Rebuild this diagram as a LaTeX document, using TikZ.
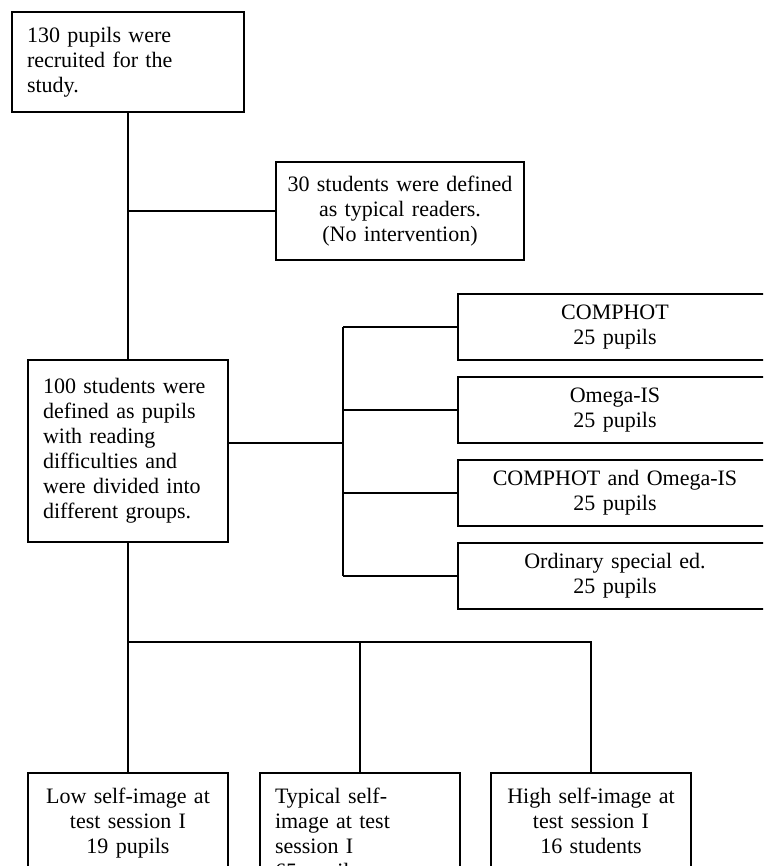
\documentclass[tikz,border=0pt]{standalone}
\usepackage{fontspec}
\setmainfont{Liberation Serif}
\begin{document}
\begin{tikzpicture}[
	x=1pt, y=-1pt,
	every node/.style={font=\fontsize{22}{25}\selectfont},
	box/.style={shape=rectangle, draw=black, line width=1.8pt, inner ysep=0pt, outer sep=0pt},
	leftbox/.style={box, align=left, inner xsep=15pt},
	midbox/.style={box, align=center, inner xsep=4pt},
	link/.style={line width=1.8pt},
]
\useasboundingbox (0,0) rectangle (763,866);
\clip (0,0) rectangle (763,866);

\node[leftbox, text width=202pt, minimum height=100pt, anchor=north west] (recruit) at (12,12) {130 pupils were\\recruited for the\\study.};
\node[midbox, text width=240pt, minimum height=98pt, anchor=north west] (typical) at (276,162) {30 students were defined\\as typical readers.\\(No intervention)};
\node[leftbox, text width=170pt, minimum height=182pt, anchor=north west] (divided) at (28,360) {100 students were\\defined as pupils\\with reading\\difficulties and\\were divided into\\different groups.};

\node[midbox, text width=306pt, minimum height=66pt, anchor=north west] (comphot) at (458,294) {COMPHOT\\25 pupils};
\node[midbox, text width=306pt, minimum height=66pt, anchor=north west] (omega) at (458,377) {Omega-IS\\25 pupils};
\node[midbox, text width=306pt, minimum height=66pt, anchor=north west] (both) at (458,460) {COMPHOT and Omega-IS\\25 pupils};
\node[midbox, text width=306pt, minimum height=66pt, anchor=north west] (ordinary) at (458,543) {Ordinary special ed.\\25 pupils};

\node[midbox, text width=192pt, minimum height=100pt, anchor=north west] (lowself) at (28,773) {\strut Low self-image at\\test session I\\19 pupils\strut};
\node[leftbox, text width=170pt, minimum height=125pt, anchor=north west] (typself) at (260,773) {\strut Typical self-\\image at test\\session I\\65 pupils\strut};
\node[midbox, text width=192pt, minimum height=100pt, anchor=north west] (highself) at (491,773) {\strut High self-image at\\test session I\\16 students\strut};

% top part
\draw[link] (recruit.south) -- (divided.north);
\coordinate (typjoin) at (128,211);
\draw[link] (typjoin) -- (typical.west);

% intervention groups
\coordinate (grpspine) at (343,443);
\draw[link] (divided.east |- grpspine) -- (grpspine);
\draw[link] (comphot.west -| grpspine) -- (ordinary.west -| grpspine);
\foreach \g in {comphot,omega,both,ordinary}
	\draw[link] (\g.west -| grpspine) -- (\g.west);

% self-image groups
\coordinate (split) at (128,642);
\draw[link] (divided.south) -- (split) -- (highself.north |- split) -- (highself.north);
\draw[link] (lowself.north |- split) -- (lowself.north);
\draw[link] (typself.north |- split) -- (typself.north);
\end{tikzpicture}
\end{document}
